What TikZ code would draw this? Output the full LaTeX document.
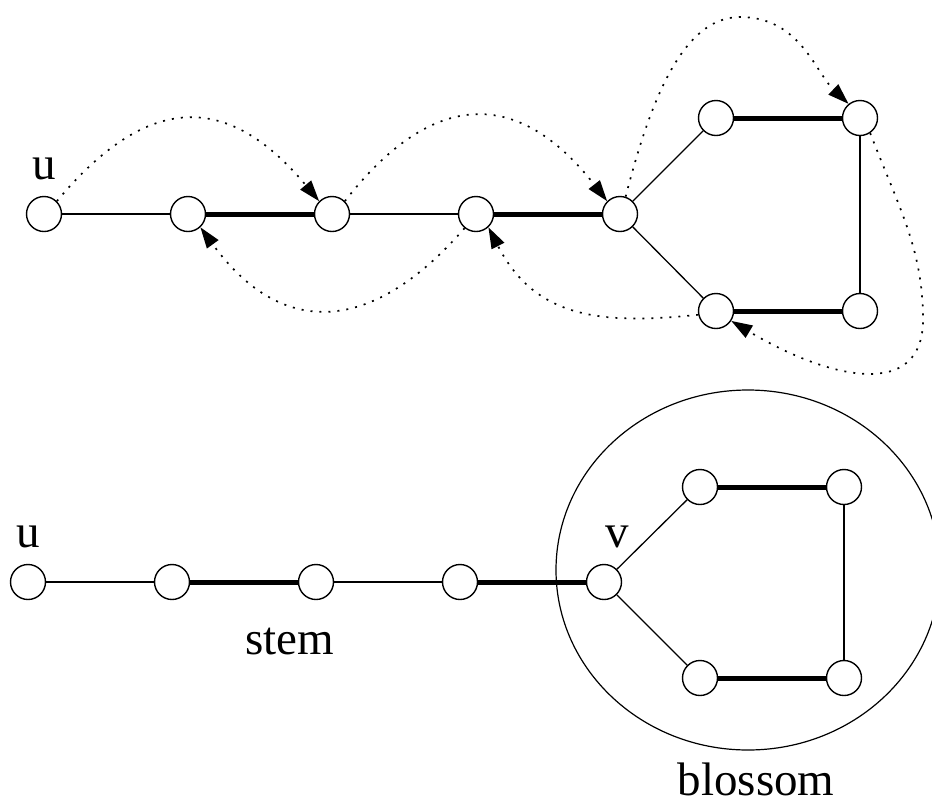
\documentclass[tikz,border=0pt]{standalone}
\usepackage{fontspec}
\setmainfont{Liberation Serif}
\usetikzlibrary{arrows.meta}

\begin{document}
\begin{tikzpicture}[x=1pt,y=1pt,
  vertex/.style={circle,draw,fill=white,line width=1.4pt,minimum size=35pt,inner sep=0pt},
  plain/.style={line width=1.3pt},
  matched/.style={line width=5pt},
  walk/.style={line width=1.7pt,dash pattern=on 2pt off 7pt,-{Triangle[length=21pt,width=14pt]}},
  lbl/.style={anchor=base,font=\fontsize{47}{56}\selectfont}]
  \useasboundingbox (0,0) rectangle (932,-804);
  %Top path with odd cycle
  \node[vertex] (pu) at (44,-214) {};
  \node[vertex] (p1) at (188,-214) {};
  \node[vertex] (p2) at (332,-214) {};
  \node[vertex] (p3) at (476,-214) {};
  \node[vertex] (pv) at (620,-214) {};
  \node[vertex] (pa) at (716,-118) {};
  \node[vertex] (pb) at (860,-118) {};
  \node[vertex] (pc) at (716,-311) {};
  \node[vertex] (pd) at (860,-311) {};
  \node[lbl] (pulabel) at (44,-179) {u};
  \draw[plain] (pu) -- (p1);
  \draw[matched] (p1) -- (p2);
  \draw[plain] (p2) -- (p3);
  \draw[matched] (p3) -- (pv);
  \draw[plain] (pv) -- (pa);
  \draw[plain] (pv) -- (pc);
  \draw[matched] (pa) -- (pb);
  \draw[matched] (pc) -- (pd);
  \draw[plain] (pb) -- (pd);
  %Alternating walk
  \draw[walk] (pu.45) .. controls (148,-92) and (228,-92) .. (p2.135);
  \draw[walk] (p2.45) .. controls (433,-88) and (519,-88) .. (pv.135);
  \draw[walk] (pv.72) .. controls (648,-110) and (680,-17) .. (740,-17)
    .. controls (800,-17) and (815,-72) .. (pb.129);
  \draw[walk] (pb.-56) .. controls (900,-210) and (923,-250) .. (923,-320)
    .. controls (923,-400) and (830,-380) .. (pc.-33);
  \draw[walk] (pc.192) .. controls (600,-325) and (535,-318) .. (p3.-47);
  \draw[walk] (p3.231) .. controls (370,-337) and (280,-337) .. (p1.-47);

  %Bottom: stem and blossom
  \draw[line width=1.2pt] (748,-570) ellipse (192 and 180);
  \node[vertex] (su) at (28,-582) {};
  \node[vertex] (s1) at (172,-582) {};
  \node[vertex] (s2) at (316,-582) {};
  \node[vertex] (s3) at (460,-582) {};
  \node[vertex] (sv) at (604,-582) {};
  \node[vertex] (sa) at (700,-487) {};
  \node[vertex] (sb) at (844,-487) {};
  \node[vertex] (sc) at (700,-678) {};
  \node[vertex] (sd) at (844,-678) {};
  \draw[plain] (su) -- (s1);
  \draw[matched] (s1) -- (s2);
  \draw[plain] (s2) -- (s3);
  \draw[matched] (s3) -- (sv);
  \draw[plain] (sv) -- (sa);
  \draw[plain] (sv) -- (sc);
  \draw[matched] (sa) -- (sb);
  \draw[matched] (sc) -- (sd);
  \draw[plain] (sb) -- (sd);
  %Labels
  \node[lbl] (sulabel) at (28,-547) {u};
  \node[lbl] (svlabel) at (617,-547) {v};
  \node[lbl] (stemlabel) at (290,-654) {stem};
  \node[lbl] (blossomlabel) at (756,-795) {blossom};
\end{tikzpicture}
\end{document}
